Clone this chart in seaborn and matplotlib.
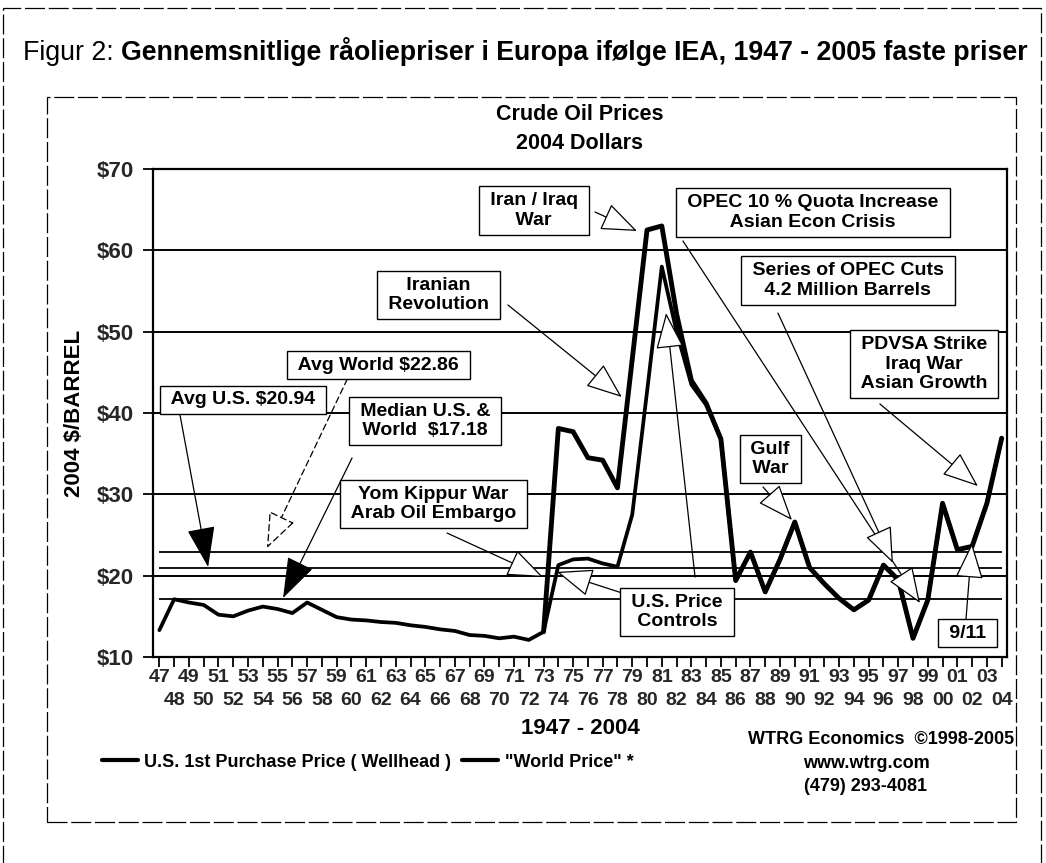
import numpy as np
import pandas as pd
import matplotlib
matplotlib.use("Agg")
import matplotlib.pyplot as plt
import seaborn as sns
from matplotlib.patches import Rectangle
from matplotlib.lines import Line2D
from matplotlib.ticker import FixedLocator, FixedFormatter

# ---------------- data ----------------
years = list(range(1947, 2005))
us_price = [13.3, 17.1, 16.7, 16.4, 15.2, 15.0, 15.7, 16.2, 15.9, 15.4,
            16.7, 15.8, 14.9, 14.6, 14.5, 14.3, 14.2, 13.9, 13.7, 13.4,
            13.2, 12.7, 12.6, 12.3, 12.5, 12.1, 13.1, 21.3, 22.0, 22.1,
            21.5, 21.1, 27.5, 42.6, 58.0, 50.0, 43.5, 41.0, 36.8, 19.4,
            22.9, 18.0, 22.0, 26.6, 21.0, 19.0, 17.2, 15.8, 17.0, 21.3,
            19.5, 12.3, 17.0, 28.9, 23.2, 23.6, 28.9, 36.9]
world_price = [np.nan] * 26 + [
            13.1, 38.1, 37.7, 34.5, 34.2, 30.8, 46.6, 62.5, 63.0, 52.2,
            44.0, 41.2, 36.8, 19.4, 22.9, 18.0, 22.0, 26.6, 21.0, 19.0,
            17.2, 15.8, 17.0, 21.3, 19.5, 12.3, 17.0, 28.9, 23.2, 23.6,
            28.9, 36.9]
ref_levels = [22.86, 20.94, 17.18]
y_ticks = [10, 20, 30, 40, 50, 60, 70]
y_tick_labels = ["$10", "$20", "$30", "$40", "$50", "$60", "$70"]
odd_years = [y for y in years if y % 2 == 1]
even_years = [y for y in years if y % 2 == 0]
odd_labels = [f"{y % 100:02d}" for y in odd_years]
even_labels = [f"{y % 100:02d}" for y in even_years]
series_labels = ["U.S. 1st Purchase Price ( Wellhead )", '"World Price" *']

# annotations: text, text centre (year, $), list of (start, tip, style)
annotations = [
    ("Iran / Iraq\nWar", (1972.34, 64.90), [((1976.48, 64.71), (1979.32, 62.38), "open")]),
    ("Iranian\nRevolution", (1965.87, 54.51), [((1970.59, 53.28), (1978.29, 41.97), "open")]),
    ("OPEC 10 % Quota Increase\nAsian Econ Crisis", (1991.23, 64.65), [((1982.43, 61.15), (1998.47, 16.64), "open")]),
    ("Series of OPEC Cuts\n4.2 Million Barrels", (1993.60, 56.29), [((1988.86, 52.29), (1996.64, 21.56), "open")]),
    ("PDVSA Strike\nIraq War\nAsian Growth", (1998.74, 46.02), [((1995.76, 41.11), (2002.39, 31.02), "open")]),
    ("Gulf\nWar", (1988.35, 34.34), [((1987.85, 30.90), (1989.81, 26.84), "open")]),
    ("U.S. Price\nControls", (1982.03, 15.53), [((1978.31, 17.87), (1973.91, 20.46), "open"),
                                             ((1983.25, 19.83), (1981.29, 52.29), "open")]),
    ("Yom Kippur War\nArab Oil Embargo", (1965.54, 28.81), [((1966.47, 25.24), (1972.96, 19.83), "open")]),
    ("Avg U.S. $20.94", (1952.66, 41.60), [((1948.40, 39.75), (1950.30, 21.06), "filled")]),
    ("Avg World $22.86", (1961.82, 45.90), [((1959.72, 44.18), (1954.28, 23.40), "dashed")]),
    ("Median U.S. &\nWorld  $17.18", (1964.98, 39.01), [((1960.04, 34.47), (1955.37, 17.25), "filled")]),
    ("9/11", (2001.68, 12.95), [((2001.58, 14.55), (2001.99, 24.01), "open")]),
]

# ---------------- figure ----------------
sns.set_theme(style="white")
plt.rcParams['font.family'] = ['Liberation Sans', 'DejaVu Sans']
plt.rcParams['text.color'] = 'black'

W, H = 1046, 863
fig = plt.figure(figsize=(W / 100, H / 100), dpi=100)
fig.patch.set_facecolor('white')


def fx(px):
    return px / W


def fy(py):
    return 1 - py / H


L, R, T, B = 153, 1007, 169, 657
ax = fig.add_axes([fx(L), fy(B), (R - L) / W, (B - T) / H])
ax.set_facecolor('white')

df = pd.DataFrame({'year': years, 'us': us_price, 'world': world_price})
sns.lineplot(data=df, x='year', y='us', ax=ax, color='black', lw=2.7,
             zorder=5, legend=False)
sns.lineplot(data=df.dropna(), x='year', y='world', ax=ax, color='black',
             lw=3.5, zorder=5, legend=False)

ax.hlines(ref_levels, years[0], years[-1], colors='black', lw=1.3, zorder=3)

ax.set_xlim(1946.57, 2004.36)
ax.set_ylim(10, 70)
ax.set_yticks(y_ticks)
ax.set_yticklabels(y_tick_labels)
ax.xaxis.set_major_locator(FixedLocator(odd_years))
ax.xaxis.set_major_formatter(FixedFormatter(odd_labels))
ax.xaxis.set_minor_locator(FixedLocator(even_years))
ax.xaxis.set_minor_formatter(FixedFormatter(even_labels))
ax.grid(axis='y', which='major', color='black', lw=1.4, zorder=2)
ax.grid(axis='x', which='both', visible=False)
ax.set_axisbelow(True)
for s in ax.spines.values():
    s.set_color('black')
    s.set_linewidth(1.6)
ax.tick_params(axis='both', which='both', direction='out', length=7,
               width=1.3, color='black', bottom=True, left=True)
ax.tick_params(axis='x', which='major', pad=1.5, labelsize=14)
ax.tick_params(axis='x', which='minor', pad=18.0, labelsize=14)
ax.tick_params(axis='y', which='major', pad=7, labelsize=16)
ax.tick_params(axis='y', which='minor', left=False)
for lab in ax.get_xticklabels(which='both') + ax.get_yticklabels():
    lab.set_fontweight('bold')
ax.set_xlabel("")
ax.set_ylabel("")

# annotations
for text, (cx, cy), arrows in annotations:
    for start, tip, style in arrows:
        if style == "filled":
            props = dict(arrowstyle='-|>,head_length=1.3,head_width=0.45',
                         mutation_scale=20, fc='black', ec='black', lw=0.9,
                         shrinkA=0, shrinkB=0)
        elif style == "dashed":
            props = dict(arrowstyle='-|>,head_length=1.15,head_width=0.45',
                         mutation_scale=20, fc='white', ec='black', lw=0.9,
                         ls=(0, (5, 3)), shrinkA=0, shrinkB=0)
        else:
            props = dict(arrowstyle='-|>,head_length=1.15,head_width=0.45',
                         mutation_scale=20, fc='white', ec='black', lw=0.9,
                         shrinkA=0, shrinkB=0)
        ax.annotate('', xy=tip, xytext=start, arrowprops=props, zorder=7)
    padded = "\n".join(f" {line} " for line in text.split("\n"))
    ax.text(cx, cy, padded, ha='center', va='center', fontsize=14,
            fontweight='bold', linespacing=1.2, zorder=8,
            bbox=dict(boxstyle='square,pad=0.3', fc='white', ec='black', lw=1.0))

# ---------------- surrounding texts ----------------
fig.text(fx(580), fy(115), "Crude Oil Prices", ha='center', va='center',
         fontsize=15.5, fontweight='bold')
fig.text(fx(580), fy(143), "2004 Dollars", ha='center', va='center',
         fontsize=15.5, fontweight='bold')
fig.text(fx(75), fy(413), "2004 $/BARREL", ha='center', va='center',
         rotation=90, fontsize=16, fontweight='bold')
fig.text(fx(580), fy(728), "1947 - 2004", ha='center', va='center',
         fontsize=16, fontweight='bold')
fig.text(fx(1014), fy(739), "WTRG Economics  \u00a91998-2005", ha='right',
         va='center', fontsize=13, fontweight='bold')
fig.text(fx(866), fy(763), "www.wtrg.com", ha='center', va='center',
         fontsize=13, fontweight='bold')
fig.text(fx(866), fy(786), "(479) 293-4081", ha='center', va='center',
         fontsize=13, fontweight='bold')

handles = [Line2D([], [], color='black', lw=3), Line2D([], [], color='black', lw=3)]
fig.legend(handles=handles, labels=series_labels, loc='center left',
           bbox_to_anchor=(fx(102), fy(762)), ncol=2, frameon=False,
           prop={'size': 13, 'weight': 'bold'}, handlelength=2.0,
           handletextpad=0.35, columnspacing=0.6, borderaxespad=0,
           borderpad=0)

# title with regular prefix + bold remainder, fitted to width (shared baseline)
renderer = fig.canvas.get_renderer()
fs = 16
t1 = fig.text(fx(23), fy(60), "Figur 2: ", ha='left', va='baseline', fontsize=fs)
t2 = fig.text(0, fy(60), "Gennemsnitlige råoliepriser i Europa ifølge IEA, 1947 - 2005 faste priser",
              ha='left', va='baseline', fontsize=fs, fontweight='bold')


def place_title():
    b1 = t1.get_window_extent(renderer)
    t2.set_x(b1.x1 / W)
    b2 = t2.get_window_extent(renderer)
    return b2.x1 - b1.x0


wtot = place_title()
fs = fs * (1030 - 23) / wtot
t1.set_fontsize(fs)
t2.set_fontsize(fs)
place_title()

# dashed frames
fig.add_artist(Rectangle((fx(3), fy(875)), (1041 - 3) / W, (875 - 8) / H,
                         transform=fig.transFigure, fill=False, ec='black',
                         lw=0.9, ls=(0, (16, 3))))
fig.add_artist(Rectangle((fx(47), fy(822)), (1016 - 47) / W, (822 - 97) / H,
                         transform=fig.transFigure, fill=False, ec='black',
                         lw=0.9, ls=(0, (16, 3))))

fig.savefig("out.png", dpi=100, facecolor='white')
